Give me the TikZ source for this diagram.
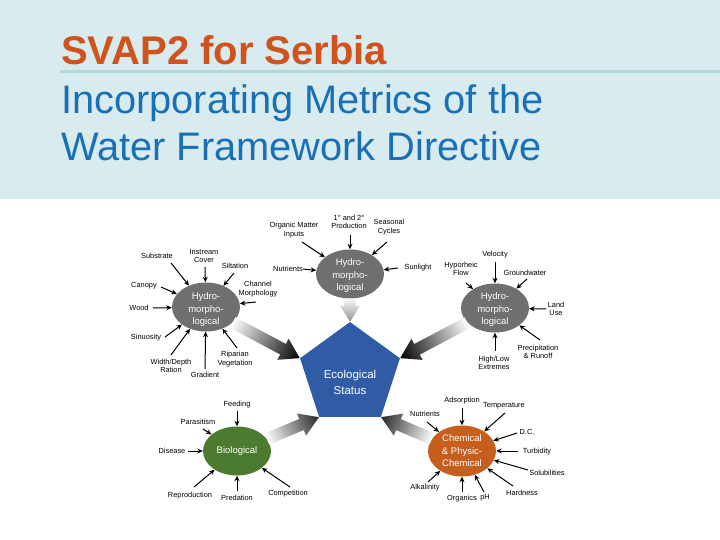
\documentclass[tikz,border=0pt]{standalone}
\usepackage{fontspec}
\setmainfont{Liberation Sans}
\usetikzlibrary{shapes.geometric,calc,arrows.meta}
\definecolor{bandbg}{HTML}{D8ECEF}
\definecolor{bandline}{HTML}{B5D7DC}
\definecolor{titleorange}{HTML}{D0521D}
\definecolor{titleblue}{HTML}{1A70B6}
\definecolor{hmgray}{HTML}{6F6F6F}
\definecolor{biogreen}{HTML}{4C7A2E}
\definecolor{chemorange}{HTML}{C65F1E}
\definecolor{ecoblue}{HTML}{2F5CA5}
\newcommand\garrow[7]{%
  \coordinate (gA) at (#1);
  \coordinate (gB) at (#2);
  \path let \p1=($(gB)-(gA)$) in \pgfextra{%
    \pgfmathsetmacro\glen{veclen(\x1,\y1)}%
    \pgfmathsetmacro\gang{atan2(\y1,\x1)}%
    \global\let\glen\glen\global\let\gang\gang};
  \begin{scope}[transform canvas={shift={(gA)}, rotate=\gang}]
    \shade[left color=#3, right color=#4]
      (0,#5) -- (\glen-#7,#5) -- (\glen-#7,#6) -- (\glen,0) --
      (\glen-#7,-#6) -- (\glen-#7,-#5) -- (0,-#5) -- cycle;
  \end{scope}
}
\newcommand\sarr[3]{\coordinate (#1) at (#2); \draw[sa] (#1) -- (#3);}
\begin{document}
\begin{tikzpicture}[x=1pt,y=-1pt,
  lbl/.style={font=\fontsize{7.4}{8.4}\selectfont, align=center, inner sep=0pt},
  sa/.style={line width=1pt, -{Stealth[length=5.5pt,width=5pt]}},
  ell/.style={ellipse, minimum width=68pt, minimum height=49pt, inner sep=0pt, draw=none},
  elltext/.style={text=white, font=\fontsize{9.5}{12.5}\selectfont, align=center, inner sep=0pt},
  ttl/.style={anchor=base west, inner sep=0pt}]
\useasboundingbox (0,0) rectangle (720,540);
\fill[white] (0,0) rectangle (720,540);
\fill[bandbg] (0,0) rectangle (720,199);
\draw[bandline, line width=3pt] (60,72) -- (720,72);
\node[ttl, font=\fontsize{40}{48}\selectfont\bfseries, text=titleorange] (title) at (61,65) {SVAP2 for Serbia};
\node[ttl, font=\fontsize{39.8}{47}\selectfont, text=titleblue] (sub1) at (61,114) {Incorporating Metrics of the};
\node[ttl, font=\fontsize{39.8}{47}\selectfont, text=titleblue] (sub2) at (61,161) {Water Framework Directive};

% ellipses
\node[ell, fill=hmgray] (hm1) at (206,307) {};
\node[elltext] (hm1t) at (206,310) {Hydro-\\morpho-\\logical};
\node[ell, fill=hmgray] (hm2) at (350,274) {};
\node[elltext] (hm2t) at (350,276) {Hydro-\\morpho-\\logical};
\node[ell, fill=hmgray] (hm3) at (495,308) {};
\node[elltext] (hm3t) at (495,310) {Hydro-\\morpho-\\logical};
\node[ell, fill=biogreen] (bio) at (237,451) {};
\node[elltext] (biot) at (237,451) {Biological};
\node[ell, fill=chemorange, minimum height=51pt] (chem) at (462,451) {};
\node[elltext] (chemt) at (462,451) {Chemical\\\& Physic-\\Chemical};

% pentagon
\node[regular polygon, regular polygon sides=5, minimum size=105pt, inner sep=0pt, fill=ecoblue] (eco) at (350,374.5) {};
\node[text=white, font=\fontsize{11.5}{16}\selectfont, align=center, inner sep=0pt] (ecot) at (350,382) {Ecological\\Status};

% gradient arrows
\garrow{hm2.south}{eco.corner 1}{gray!5}{gray!85}{6}{10}{16}
\garrow{hm1.-30}{eco.corner 2}{white}{black}{6}{12}{19}
\garrow{hm3.-152}{eco.corner 5}{white}{black}{6}{12}{19}
\garrow{bio.22}{eco.corner 3}{white}{black!85}{6}{12}{19}
\garrow{chem.158}{eco.corner 4}{white}{black!85}{6}{12}{19}

% top-left cluster
\node[lbl] (sub) at (157,256) {Substrate};
\sarr{asub}{171,263}{hm1}
\node[lbl] (inst) at (204,256) {Instream\\Cover};
\sarr{ainst}{205,267}{hm1}
\node[lbl] (silt) at (235,266) {Siltation};
\sarr{asilt}{234,273}{hm1}
\node[lbl] (chan) at (258,289) {Channel\\Morphology};
\sarr{achan}{256,302}{hm1}
\node[lbl] (can) at (144,286) {Canopy};
\sarr{acan}{161,287}{hm1}
\node[lbl] (wood) at (139,308) {Wood};
\sarr{awood}{153,308}{hm1}
\node[lbl] (sin) at (146,338) {Sinuosity};
\sarr{asin}{165,337}{hm1}
\node[lbl] (wd) at (171,366) {Width/Depth\\Ration};
\sarr{awd}{171,355}{hm1}
\node[lbl] (grad) at (205,375) {Gradient};
\sarr{agrad}{205,369}{hm1}
\node[lbl] (rip) at (235,359) {Riparian\\Vegetation};
\sarr{arip}{237,348}{hm1}

% top-centre cluster
\node[lbl] (om) at (294,230) {Organic Matter\\Inputs};
\sarr{aom}{302,242}{hm2}
\node[lbl] (prod) at (349,222) {1° and 2°\\Production};
\sarr{aprod}{350,235}{hm2}
\node[lbl] (seas) at (389,227) {Seasonal\\Cycles};
\sarr{aseas}{387,242}{hm2}
\node[lbl] (nut) at (288,269) {Nutrients};
\sarr{anut}{303,269}{hm2}
\node[lbl] (sun) at (418,268) {Sunlight};
\sarr{asun}{398,268}{hm2}

% top-right cluster
\node[lbl] (vel) at (495,255) {Velocity};
\sarr{avel}{495,262}{hm3}
\node[lbl] (hyp) at (461,269) {Hyporheic\\Flow};
\sarr{ahyp}{466,283}{hm3}
\node[lbl] (gw) at (525,273) {Groundwater};
\sarr{agw}{527,279}{hm3}
\node[lbl] (land) at (556,309) {Land\\Use};
\sarr{aland}{546,309}{hm3}
\node[lbl] (prec) at (538,352) {Precipitation\\\& Runoff};
\sarr{aprec}{540,340}{hm3}
\node[lbl] (hl) at (494,363) {High/Low\\Extremes};
\sarr{ahl}{495,351}{hm3}

% biological cluster
\node[lbl] (feed) at (237,405) {Feeding};
\sarr{afeed}{237,411}{bio}
\node[lbl] (para) at (198,422) {Parasitism};
\sarr{apara}{203,429}{bio}
\node[lbl] (dis) at (172,451) {Disease};
\sarr{adis}{188,451}{bio}
\node[lbl] (rep) at (190,496) {Reproduction};
\sarr{arep}{194,487}{bio}
\node[lbl] (pred) at (237,498) {Predation};
\sarr{apred}{237,491}{bio}
\node[lbl] (comp) at (288,494) {Competition};
\sarr{acomp}{290,487}{bio}

% chemical cluster
\node[lbl] (ads) at (462,401) {Adsorption};
\sarr{aads}{462,408}{chem}
\node[lbl] (cnut) at (425,414) {Nutrients};
\sarr{acnut}{427,422}{chem}
\node[lbl] (temp) at (504,406) {Temperature};
\sarr{atemp}{505,413}{chem}
\node[lbl] (dox) at (527,432) {D.C.};
\sarr{adox}{517,433}{chem}
\node[lbl] (turb) at (537,452) {Turbidity};
\sarr{aturb}{518,451}{chem}
\node[lbl] (sol) at (547,473) {Solubilities};
\sarr{asol}{528,470}{chem}
\node[lbl] (hard) at (522,493) {Hardness};
\sarr{ahard}{513,486}{chem}
\node[lbl] (ph) at (485,498) {pH};
\sarr{aph}{484,492}{chem}
\node[lbl] (org) at (462,499) {Organics};
\sarr{aorg}{462,492}{chem}
\node[lbl] (alk) at (425,488) {Alkalinity};
\sarr{aalk}{428,482}{chem}
\end{tikzpicture}
\end{document}
